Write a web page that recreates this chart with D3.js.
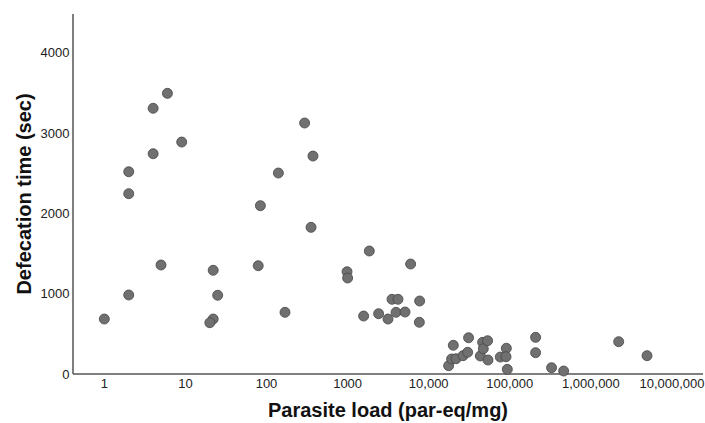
<!DOCTYPE html>
<html>
<head>
<meta charset="utf-8">
<script src="https://cdn.jsdelivr.net/npm/d3@7"></script>
<style>
  body { margin: 0; background: #fff; }
  text { font-family: "Liberation Sans", Arial, sans-serif; }
</style>
</head>
<body>
<script>
// parasite load (par-eq/mg) and defecation time (sec)
var load = [1, 2, 2, 2, 4, 4, 6, 9, 5, 22, 25, 22, 20,
            79, 84, 140, 169, 295, 374, 354,
            1852, 984, 1000, 5980, 1575, 2411, 3148, 3527, 4180, 3953, 5102, 7727, 7660,
            20100, 31000, 17600, 19150, 21700, 26500, 30200, 43300, 46200, 47100, 53200, 53800,
            76300, 90600, 89800, 93100, 208000, 208000, 327000, 461000, 2200000, 4920000];
var time = [684, 983, 2243, 2516, 2740, 3305, 3491, 2885, 1356, 1290, 979, 684, 638,
            1347, 2094, 2500, 767, 3122, 2711, 1824,
            1530, 1272, 1194, 1368, 721, 750, 684, 929, 929, 767, 771, 908, 643,
            357, 451, 103, 187, 190, 228, 270, 224, 394, 315, 414, 174,
            211, 320, 215, 58, 456, 265, 78, 37, 402, 228];

var xTicks = [1, 10, 100, 1000, 10000, 100000, 1000000, 10000000];
var xTickLabels = ["1", "10", "100", "1000", "10,000", "100,000", "1,000,000", "10,000,000"];
var yTicks = [0, 1000, 2000, 3000, 4000];

var width = 705, height = 423;
var mLeft = 73, mRight = 703, mTop = 14, mBottom = 374;

var svg = d3.select("body").append("svg")
            .attr("width", width)
            .attr("height", height);

var x = d3.scaleLog().domain([0.411, 10 ** 7.382]).range([mLeft, mRight]);
var y = d3.scaleLinear().domain([0, 4478]).range([mBottom, mTop]);

// axis lines
svg.append("line")
   .attr("x1", mLeft).attr("x2", mLeft)
   .attr("y1", mTop).attr("y2", mBottom)
   .attr("stroke", "#555").attr("stroke-width", 1.5);
svg.append("line")
   .attr("x1", mLeft).attr("x2", mRight)
   .attr("y1", mBottom).attr("y2", mBottom)
   .attr("stroke", "#555").attr("stroke-width", 1.5);

// tick labels
svg.selectAll(".xt").data(xTicks).enter().append("text")
   .attr("class", "xt")
   .attr("x", function(d){ return x(d); })
   .attr("y", mBottom + 13.5)
   .attr("text-anchor", "middle")
   .attr("font-size", "13px")
   .attr("fill", "#222")
   .text(function(d, i){ return xTickLabels[i]; });

svg.selectAll(".yt").data(yTicks).enter().append("text")
   .attr("class", "yt")
   .attr("x", mLeft - 3.5)
   .attr("y", function(d){ return y(d) + 4.7; })
   .attr("text-anchor", "end")
   .attr("font-size", "13px")
   .attr("fill", "#222")
   .text(function(d){ return d; });

// points
var pts = load.map(function(d, i){ return {x: d, y: time[i]}; });
svg.selectAll("circle").data(pts).enter().append("circle")
   .attr("cx", function(d){ return x(d.x); })
   .attr("cy", function(d){ return y(d.y); })
   .attr("r", 5)
   .attr("fill", "#707070")
   .attr("stroke", "#454545")
   .attr("stroke-width", 0.8);

// axis titles
svg.append("text")
   .attr("x", 388).attr("y", 417)
   .attr("text-anchor", "middle")
   .attr("font-size", "20px")
   .attr("font-weight", "bold")
   .attr("fill", "#111")
   .text("Parasite load (par-eq/mg)");

svg.append("text")
   .attr("transform", "translate(31,194) rotate(-90)")
   .attr("text-anchor", "middle")
   .attr("font-size", "20px")
   .attr("font-weight", "bold")
   .attr("fill", "#111")
   .text("Defecation time (sec)");
</script>
</body>
</html>
